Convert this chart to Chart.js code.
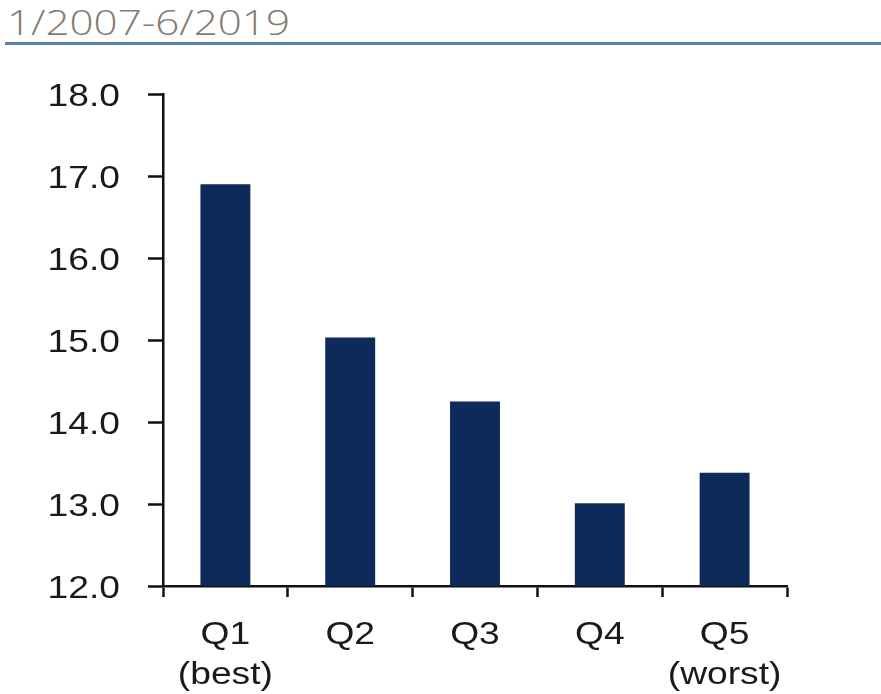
<!DOCTYPE html>
<html>
<head>
<meta charset="utf-8">
<script src="https://cdn.jsdelivr.net/npm/chart.js@4"></script>
<style>
  html, body { margin: 0; padding: 0; background: #fff; }
  #wrap { position: relative; width: 881px; height: 694px; overflow: hidden; }
  #period {
    position: absolute; left: 7px; top: 2px;
    font-family: "Open Sans", sans-serif; font-weight: 300;
    font-size: 34px; color: #857a70; line-height: 40px;
    transform: scaleX(1.24); transform-origin: left top; white-space: nowrap;
  }
  #rule {
    position: absolute; left: 5px; right: 0; top: 42px;
    height: 3px; background: #5a80b3;
  }
  #quintileChart { position: absolute; left: 0; top: 0; }
</style>
</head>
<body>
<div id="wrap">
  <div id="period">1/2007-6/2019</div>
  <div id="rule"></div>
  <canvas id="quintileChart" width="881" height="694"></canvas>
</div>
<script>
  const quintileLabels = [['Q1', '(best)'], ['Q2'], ['Q3'], ['Q4'], ['Q5', '(worst)']];
  const quintileValues = [16.90, 15.03, 14.25, 13.01, 13.38];
  const yMin = 12;
  const yMax = 18;
  const yStep = 1;

  const axisColor = '#111';
  const barColor = '#0e2a5a';
  const labelColor = '#1a1a1a';
  const labelFont = '31px "Liberation Sans", Arial, sans-serif';
  const labelStretch = 1.2;

  // tick labels are drawn a little wide, so paint them ourselves at the scale's tick positions
  function drawWide(ctx, text, px, py, align) {
    ctx.save();
    ctx.translate(px, py);
    ctx.scale(labelStretch, 1);
    ctx.textAlign = align;
    ctx.fillText(text, 0, 0);
    ctx.restore();
  }

  const wideTickLabels = {
    id: 'wideTickLabels',
    afterDraw(chart) {
      const { ctx } = chart;
      const { x, y } = chart.scales;
      ctx.save();
      ctx.fillStyle = labelColor;
      ctx.font = labelFont;
      ctx.textBaseline = 'alphabetic';
      y.ticks.forEach((t, i) => {
        drawWide(ctx, t.label, y.right - 43, y.getPixelForTick(i) + 12, 'right');
      });
      x.ticks.forEach((t, i) => {
        [].concat(t.label).forEach((line, j) => {
          drawWide(ctx, line, x.getPixelForTick(i), x.top + 58 + j * 40, 'center');
        });
      });
      ctx.restore();
    }
  };

  new Chart(document.getElementById('quintileChart'), {
    type: 'bar',
    data: {
      labels: quintileLabels,
      datasets: [{
        data: quintileValues,
        backgroundColor: barColor,
        borderWidth: 0,
        barPercentage: 0.4,
        categoryPercentage: 1
      }]
    },
    options: {
      responsive: false,
      animation: false,
      layout: { padding: { top: 94, right: 94, left: 0, bottom: 0 } },
      plugins: { legend: { display: false }, tooltip: { enabled: false } },
      scales: {
        x: {
          grid: {
            drawOnChartArea: false,
            drawTicks: true,
            tickLength: 11,
            tickWidth: 2.5,
            tickColor: axisColor
          },
          border: { color: axisColor, width: 2.5 },
          ticks: { display: false, autoSkip: false },
          afterFit(scale) { scale.height = 108; }
        },
        y: {
          min: yMin,
          max: yMax,
          grid: {
            drawOnChartArea: false,
            drawTicks: true,
            tickLength: 15,
            tickWidth: 2.5,
            tickColor: axisColor
          },
          border: { color: axisColor, width: 2.5 },
          ticks: {
            display: false,
            stepSize: yStep,
            callback: (v) => Number(v).toFixed(1)
          },
          afterFit(scale) { scale.width = 163; }
        }
      }
    },
    plugins: [wideTickLabels]
  });
</script>
</body>
</html>
